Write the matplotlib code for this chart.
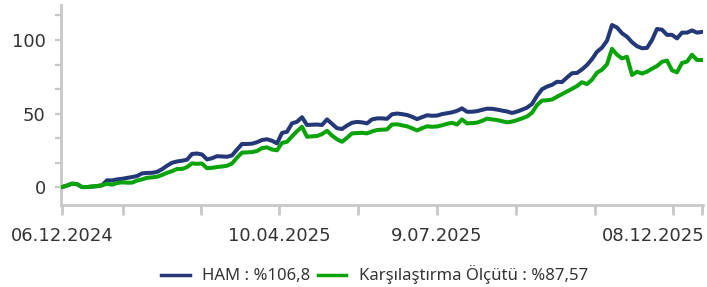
#!/usr/bin/env python

import numpy as np
import matplotlib
matplotlib.use("Agg")
import matplotlib.pyplot as plt
import matplotlib.transforms as mtransforms

# cumulative return (%), sampled at regular steps along the period
ham = [0.0, 1.0, 2.3, 2.0, 0.0, 0.0, 0.3, 0.6, 1.2, 4.6,
       4.5, 5.2, 5.6, 6.2, 6.8, 7.5, 9.3, 9.6, 9.7, 10.3,
       12.1, 14.5, 16.5, 17.4, 17.9, 18.6, 22.5, 22.8, 22.2, 18.8,
       19.6, 21.0, 20.8, 20.6, 21.5, 25.5, 29.3, 29.3, 29.5, 30.5,
       32.0, 32.5, 31.5, 29.7, 36.8, 37.6, 43.3, 44.4, 47.5, 42.2,
       42.4, 42.5, 42.2, 46.0, 43.0, 40.0, 39.5, 41.8, 43.7, 44.3,
       44.0, 43.3, 46.0, 46.7, 46.7, 46.4, 49.5, 50.0, 49.6, 49.0,
       47.8, 46.2, 47.5, 48.8, 48.5, 48.6, 49.6, 50.2, 50.8, 51.8,
       53.5, 51.2, 51.2, 51.6, 52.5, 53.3, 53.2, 52.7, 52.0, 51.4,
       50.4, 51.3, 52.6, 54.0, 56.5, 62.0, 66.5, 68.3, 69.5, 71.6,
       71.4, 74.5, 77.4, 77.6, 80.0, 83.0, 87.0, 92.0, 94.8, 99.5,
       110.2, 108.5, 104.6, 102.2, 98.5, 95.8, 94.4, 94.6, 100.0, 107.5,
       107.0, 103.5, 103.5, 101.1, 105.0, 105.0, 106.5, 105.0, 105.5]

olcut = [0.0, 1.0, 2.3, 2.0, 0.0, 0.0, 0.4, 0.7, 1.2, 2.3,
         1.6, 2.7, 3.2, 3.0, 3.0, 4.4, 5.2, 6.3, 6.6, 7.0,
         8.2, 9.7, 10.8, 12.3, 12.3, 13.6, 16.1, 15.8, 16.0, 12.8,
         13.1, 13.6, 14.0, 14.5, 16.0, 20.0, 23.4, 23.6, 23.8, 24.5,
         26.5, 27.0, 25.5, 25.0, 30.0, 30.8, 34.5, 38.0, 41.0, 34.2,
         34.5, 34.7, 36.0, 38.3, 35.0, 32.5, 30.8, 33.5, 36.5, 36.7,
         36.9, 36.5, 37.8, 38.8, 39.0, 39.2, 42.5, 42.7, 42.0, 41.3,
         40.0, 38.5, 40.0, 41.3, 41.0, 41.2, 42.0, 43.0, 43.7, 42.5,
         46.0, 43.3, 43.5, 43.8, 45.0, 46.5, 46.0, 45.6, 44.8, 44.0,
         44.5, 45.5, 46.7, 48.0, 50.5, 55.8, 58.8, 59.0, 59.5, 61.4,
         63.2, 65.0, 66.8, 68.7, 71.3, 70.0, 73.0, 77.8, 79.8, 83.5,
         94.0, 90.0, 87.5, 88.6, 76.2, 78.4, 77.2, 78.5, 80.5, 82.3,
         85.2, 86.0, 79.4, 78.0, 84.4, 85.3, 90.0, 86.4, 86.4]

tick_idx = [0, 12.2, 27.8, 43.4, 59.2, 75.0, 90.8, 106.6, 122.2, 128.0]
tick_txt = ["06.12.2024", "", "", "10.04.2025", "", "9.07.2025", "", "", "08.12.2025", ""]

legend_txt = ["HAM : %106,8", "Karşılaştırma Ölçütü : %87,57"]

BLUE = "#243878"
GREEN = "#0aa30a"
AXC = "#c8c8c8"
TXT = "#333333"

fig = plt.figure(figsize=(7.07, 2.87), dpi=100)
ax = fig.add_axes([61 / 707, 1 - 205 / 287, 642 / 707, 200 / 287])

x = np.arange(len(ham))
l1, = ax.plot(x, ham, color=BLUE, lw=2.9, solid_joinstyle="round", zorder=2)
l2, = ax.plot(x, olcut, color=GREEN, lw=2.9, solid_joinstyle="round", zorder=3)

ax.set_xlim(-0.2, 128.2)
ax.set_ylim(-12.2, 123.8)

for s in ["top", "right"]:
    ax.spines[s].set_visible(False)
for s in ["left", "bottom"]:
    ax.spines[s].set_color(AXC)
    ax.spines[s].set_linewidth(2.0)

ax.set_yticks([0, 50, 100])
ax.set_yticks([50 / 3 * i for i in range(8) if i % 3 != 0], minor=True)
ax.tick_params(axis="y", which="both", length=4, width=1.6, color=AXC,
               labelsize=13, labelcolor=TXT, pad=7)

ax.set_xticks(tick_idx)
ax.set_xticklabels(tick_txt)
ax.tick_params(axis="x", length=7, width=2.0, color=AXC,
               labelsize=13, labelcolor=TXT, pad=9)

# last date label is pushed left so it stays inside the picture
lab = ax.get_xticklabels()[8]
lab.set_transform(lab.get_transform() +
                  mtransforms.ScaledTranslation(-0.20, 0, fig.dpi_scale_trans))

fig.legend([l1, l2], legend_txt, loc="center", bbox_to_anchor=(0.530, 0.042),
           ncol=2, frameon=False, handlelength=1.7, handletextpad=0.75,
           columnspacing=0.45, prop={"family": "Noto Sans", "size": 12},
           labelcolor=TXT)
for h in fig.legends[0].legend_handles:
    h.set_linewidth(2.5)

fig.savefig("out.png", dpi=100)
